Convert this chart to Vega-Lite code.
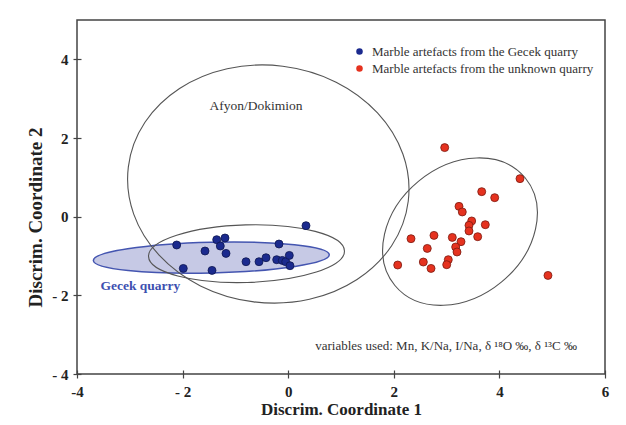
{
  "$schema": "https://vega.github.io/schema/vega-lite/v6.json",
  "width": 528,
  "height": 354,
  "autosize": {"type": "none"},
  "padding": {"left": 77, "top": 20, "right": 21, "bottom": 51},
  "background": "white",
  "config": {
    "view": {"stroke": "#444", "strokeWidth": 1.5},
    "font": "Liberation Serif"
  },
  "datasets": {
    "ell": [
      {"name": "Gecek quarry range", "x": -1.456, "y": -1.04},
      {"name": "Afyon/Dokimion", "x": -0.377, "y": 0.83},
      {"name": "Gecek group", "x": -0.79, "y": -0.94},
      {"name": "Unknown group", "x": 3.254, "y": -0.38}
    ],
    "pts": [
      {"group": "Marble artefacts from the Gecek quarry", "x": 0.337, "y": -0.229},
      {"group": "Marble artefacts from the Gecek quarry", "x": -2.112, "y": -0.72},
      {"group": "Marble artefacts from the Gecek quarry", "x": -1.987, "y": -1.316},
      {"group": "Marble artefacts from the Gecek quarry", "x": -1.576, "y": -0.873},
      {"group": "Marble artefacts from the Gecek quarry", "x": -1.354, "y": -0.585},
      {"group": "Marble artefacts from the Gecek quarry", "x": -1.197, "y": -0.542},
      {"group": "Marble artefacts from the Gecek quarry", "x": -1.286, "y": -0.746},
      {"group": "Marble artefacts from the Gecek quarry", "x": -1.178, "y": -0.934},
      {"group": "Marble artefacts from the Gecek quarry", "x": -1.443, "y": -1.366},
      {"group": "Marble artefacts from the Gecek quarry", "x": -0.799, "y": -1.145},
      {"group": "Marble artefacts from the Gecek quarry", "x": -0.553, "y": -1.145},
      {"group": "Marble artefacts from the Gecek quarry", "x": -0.42, "y": -1.043},
      {"group": "Marble artefacts from the Gecek quarry", "x": -0.174, "y": -0.695},
      {"group": "Marble artefacts from the Gecek quarry", "x": -0.218, "y": -1.094},
      {"group": "Marble artefacts from the Gecek quarry", "x": -0.112, "y": -1.112},
      {"group": "Marble artefacts from the Gecek quarry", "x": -0.047, "y": -1.145},
      {"group": "Marble artefacts from the Gecek quarry", "x": 0.021, "y": -0.985},
      {"group": "Marble artefacts from the Gecek quarry", "x": 0.034, "y": -1.247},
      {"group": "Marble artefacts from the unknown quarry", "x": 2.964, "y": 1.756},
      {"group": "Marble artefacts from the unknown quarry", "x": 4.39, "y": 0.967},
      {"group": "Marble artefacts from the unknown quarry", "x": 3.665, "y": 0.636},
      {"group": "Marble artefacts from the unknown quarry", "x": 3.911, "y": 0.483},
      {"group": "Marble artefacts from the unknown quarry", "x": 3.235, "y": 0.262},
      {"group": "Marble artefacts from the unknown quarry", "x": 3.297, "y": 0.12},
      {"group": "Marble artefacts from the unknown quarry", "x": 3.475, "y": -0.109},
      {"group": "Marble artefacts from the unknown quarry", "x": 3.424, "y": -0.221},
      {"group": "Marble artefacts from the unknown quarry", "x": 3.424, "y": -0.364},
      {"group": "Marble artefacts from the unknown quarry", "x": 3.733, "y": -0.204},
      {"group": "Marble artefacts from the unknown quarry", "x": 3.589, "y": -0.509},
      {"group": "Marble artefacts from the unknown quarry", "x": 3.108, "y": -0.527},
      {"group": "Marble artefacts from the unknown quarry", "x": 3.273, "y": -0.636},
      {"group": "Marble artefacts from the unknown quarry", "x": 3.172, "y": -0.771},
      {"group": "Marble artefacts from the unknown quarry", "x": 3.197, "y": -0.898},
      {"group": "Marble artefacts from the unknown quarry", "x": 2.761, "y": -0.476},
      {"group": "Marble artefacts from the unknown quarry", "x": 2.326, "y": -0.56},
      {"group": "Marble artefacts from the unknown quarry", "x": 2.634, "y": -0.807},
      {"group": "Marble artefacts from the unknown quarry", "x": 3.032, "y": -1.094},
      {"group": "Marble artefacts from the unknown quarry", "x": 3.002, "y": -1.221},
      {"group": "Marble artefacts from the unknown quarry", "x": 2.559, "y": -1.153},
      {"group": "Marble artefacts from the unknown quarry", "x": 2.705, "y": -1.316},
      {"group": "Marble artefacts from the unknown quarry", "x": 2.074, "y": -1.229},
      {"group": "Marble artefacts from the unknown quarry", "x": 4.92, "y": -1.494}
    ],
    "labels": [
      {"kind": "region", "x": -0.61, "y": 2.81, "text": "Afyon/Dokimion"},
      {"kind": "gecek", "x": -2.8, "y": -1.76, "text": "Gecek quarry"},
      {"kind": "note", "x": 2.99, "y": -3.28, "text": "variables used: Mn, K/Na, I/Na, δ ¹⁸O ‰, δ ¹³C ‰"}
    ]
  },
  "encoding": {
    "x": {
      "field": "x", "type": "quantitative",
      "scale": {"domain": [-4, 6], "nice": false, "zero": false},
      "axis": {
        "values": [-4, -2, 0, 2, 4, 6],
        "title": "Discrim. Coordinate 1",
        "domain": false, "grid": false,
        "offset": -4, "tickSize": 8, "tickColor": "#444", "tickWidth": 1.2,
        "labelFont": "Liberation Serif", "labelFontWeight": "bold", "labelFontSize": 15,
        "labelColor": "#222", "labelPadding": 6, "labelFlush": false, "labelOverlap": false, "labelBound": false,
        "labelExpr": "datum.value == -2 ? '- 2' : datum.value == -4 ? '-4' : datum.label",
        "titleFont": "Liberation Serif", "titleFontSize": 17, "titleFontWeight": "bold",
        "titleColor": "#222", "titlePadding": 2
      }
    },
    "y": {
      "field": "y", "type": "quantitative",
      "scale": {"domain": [-4, 5], "nice": false, "zero": false},
      "axis": {
        "values": [-4, -2, 0, 2, 4],
        "title": "Discrim. Coordinate 2",
        "domain": false, "grid": false,
        "offset": -4, "tickSize": 8, "tickColor": "#444", "tickWidth": 1.2,
        "labelFont": "Liberation Serif", "labelFontWeight": "bold", "labelFontSize": 15,
        "labelColor": "#222", "labelPadding": 5, "labelOverlap": false, "labelBound": false,
        "labelExpr": "datum.value < 0 ? '- ' + abs(datum.value) : datum.label",
        "titleFont": "Liberation Serif", "titleFontSize": 19, "titleFontWeight": "bold",
        "titleColor": "#222", "titleX": -46, "titleY": 197, "titleAngle": -90,
        "titleAlign": "center", "titleBaseline": "middle"
      }
    }
  },
  "layer": [
    {
      "data": {"name": "ell"},
      "transform": [{"filter": "datum.name == 'Gecek quarry range'"}],
      "mark": {
        "type": "point", "size": 4, "angle": -1.4, "filled": true, "opacity": 1,
        "fill": "#c6c9e5", "stroke": "#4455b0", "strokeWidth": 1.5,
        "shape": "M-118,0C-118,-8.5,-65.2,-15.4,0,-15.4C65.2,-15.4,118,-8.5,118,0C118,8.5,65.2,15.4,0,15.4C-65.2,15.4,-118,8.5,-118,0Z"
      }
    },
    {
      "data": {"name": "ell"},
      "transform": [{"filter": "datum.name == 'Afyon/Dokimion'"}],
      "mark": {
        "type": "point", "size": 4, "angle": 7, "filled": false, "opacity": 1,
        "stroke": "#555", "strokeWidth": 1.1,
        "shape": "M-141,0C-141,-65.6,-77.9,-118.7,0,-118.7C77.9,-118.7,141,-65.6,141,0C141,65.6,77.9,118.7,0,118.7C-77.9,118.7,-141,65.6,-141,0Z"
      }
    },
    {
      "data": {"name": "ell"},
      "transform": [{"filter": "datum.name == 'Gecek group'"}],
      "mark": {
        "type": "point", "size": 4, "angle": -1.6, "filled": false, "opacity": 1,
        "stroke": "#555", "strokeWidth": 1.1,
        "shape": "M-98,0C-98,-15.9,-54.1,-28.8,0,-28.8C54.1,-28.8,98,-15.9,98,0C98,15.9,54.1,28.8,0,28.8C-54.1,28.8,-98,15.9,-98,0Z"
      }
    },
    {
      "data": {"name": "ell"},
      "transform": [{"filter": "datum.name == 'Unknown group'"}],
      "mark": {
        "type": "point", "size": 4, "angle": -39.6, "filled": false, "opacity": 1,
        "stroke": "#555", "strokeWidth": 1.1,
        "shape": "M-84.5,0C-84.5,-36.1,-46.7,-65.3,0,-65.3C46.7,-65.3,84.5,-36.1,84.5,0C84.5,36.1,46.7,65.3,0,65.3C-46.7,65.3,-84.5,36.1,-84.5,0Z"
      }
    },
    {
      "data": {"name": "pts"},
      "mark": {"type": "point", "shape": "circle", "filled": true, "size": 64, "opacity": 1, "strokeWidth": 0.8},
      "encoding": {
        "color": {
          "field": "group", "type": "nominal",
          "scale": {
            "domain": ["Marble artefacts from the Gecek quarry", "Marble artefacts from the unknown quarry"],
            "range": ["#1b2a8e", "#e5321f"]
          },
          "legend": {
            "orient": "none", "legendX": 276, "legendY": 25, "title": null,
            "labelFont": "Liberation Serif", "labelFontSize": 13, "labelColor": "#333",
            "symbolSize": 42, "symbolType": "circle", "rowPadding": 3, "labelOffset": 6,
            "symbolStrokeWidth": 0, "symbolOpacity": 1, "labelLimit": 400
          }
        },
        "stroke": {
          "field": "group", "type": "nominal",
          "scale": {
            "domain": ["Marble artefacts from the Gecek quarry", "Marble artefacts from the unknown quarry"],
            "range": ["#0e1650", "#7a1a10"]
          },
          "legend": null
        }
      }
    },
    {
      "data": {"name": "labels"},
      "transform": [{"filter": "datum.kind == 'region'"}],
      "mark": {"type": "text", "font": "Liberation Serif", "fontSize": 13.5, "color": "#333", "align": "center", "baseline": "middle"},
      "encoding": {"text": {"field": "text"}}
    },
    {
      "data": {"name": "labels"},
      "transform": [{"filter": "datum.kind == 'gecek'"}],
      "mark": {"type": "text", "font": "Liberation Serif", "fontSize": 13.5, "fontWeight": "bold", "color": "#3d4fb0", "align": "center", "baseline": "middle"},
      "encoding": {"text": {"field": "text"}}
    },
    {
      "data": {"name": "labels"},
      "transform": [{"filter": "datum.kind == 'note'"}],
      "mark": {"type": "text", "font": "Liberation Serif", "fontSize": 13, "color": "#333", "align": "center", "baseline": "middle"},
      "encoding": {"text": {"field": "text"}}
    }
  ]
}
